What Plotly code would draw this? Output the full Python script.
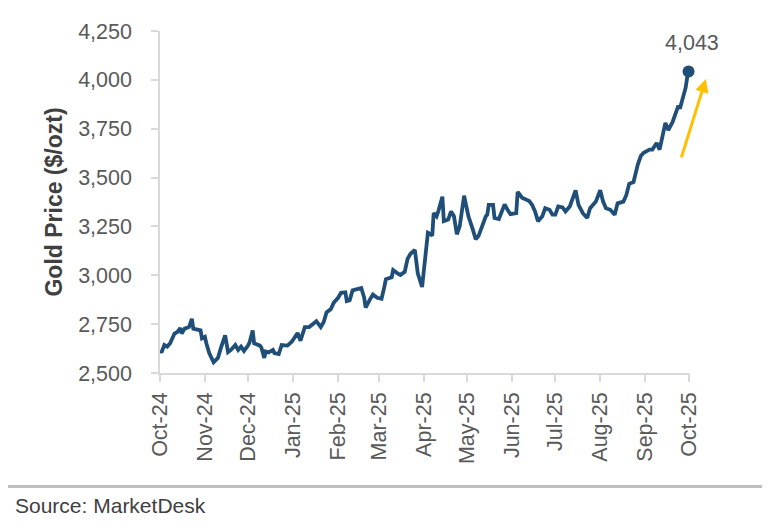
import plotly.graph_objects as go

# Gold price (USD per troy ounce)
dates = [
    "2024-10-01", "2024-10-02", "2024-10-04", "2024-10-06", "2024-10-08", "2024-10-11",
    "2024-10-13", "2024-10-15", "2024-10-16", "2024-10-18", "2024-10-21", "2024-10-23",
    "2024-10-24", "2024-10-27", "2024-10-29", "2024-10-30", "2024-11-01", "2024-11-02",
    "2024-11-04", "2024-11-07", "2024-11-10", "2024-11-12", "2024-11-15", "2024-11-17",
    "2024-11-19", "2024-11-22", "2024-11-24", "2024-11-26", "2024-11-28", "2024-12-01",
    "2024-12-02", "2024-12-04", "2024-12-05", "2024-12-09", "2024-12-10", "2024-12-12",
    "2024-12-13", "2024-12-15", "2024-12-18", "2024-12-19", "2024-12-22", "2024-12-24",
    "2024-12-26", "2024-12-28", "2024-12-31", "2025-01-02", "2025-01-04", "2025-01-06",
    "2025-01-09", "2025-01-12", "2025-01-14", "2025-01-17", "2025-01-20", "2025-01-22",
    "2025-01-24", "2025-01-27", "2025-01-29", "2025-02-01", "2025-02-03", "2025-02-06",
    "2025-02-07", "2025-02-09", "2025-02-11", "2025-02-14", "2025-02-17", "2025-02-19",
    "2025-02-20", "2025-02-23", "2025-02-25", "2025-02-28", "2025-03-03", "2025-03-05",
    "2025-03-06", "2025-03-10", "2025-03-11", "2025-03-14", "2025-03-16", "2025-03-19",
    "2025-03-21", "2025-03-23", "2025-03-26", "2025-03-28", "2025-03-30", "2025-03-31",
    "2025-04-01", "2025-04-03", "2025-04-04", "2025-04-06", "2025-04-07", "2025-04-08",
    "2025-04-10", "2025-04-11", "2025-04-14", "2025-04-15", "2025-04-18", "2025-04-20",
    "2025-04-22", "2025-04-24", "2025-04-26", "2025-04-29", "2025-05-01", "2025-05-02",
    "2025-05-05", "2025-05-07", "2025-05-09", "2025-05-11", "2025-05-14", "2025-05-15",
    "2025-05-16", "2025-05-19", "2025-05-20", "2025-05-23", "2025-05-25", "2025-05-27",
    "2025-05-29", "2025-05-31", "2025-06-04", "2025-06-05", "2025-06-08", "2025-06-11",
    "2025-06-13", "2025-06-15", "2025-06-17", "2025-06-19", "2025-06-22", "2025-06-24",
    "2025-06-27", "2025-06-29", "2025-07-01", "2025-07-03", "2025-07-06", "2025-07-08",
    "2025-07-11", "2025-07-15", "2025-07-17", "2025-07-20", "2025-07-23", "2025-07-25",
    "2025-07-29", "2025-08-01", "2025-08-03", "2025-08-05", "2025-08-08", "2025-08-11",
    "2025-08-13", "2025-08-17", "2025-08-19", "2025-08-21", "2025-08-24", "2025-08-27",
    "2025-08-29", "2025-08-31", "2025-09-04", "2025-09-06", "2025-09-09", "2025-09-11",
    "2025-09-14", "2025-09-15", "2025-09-17", "2025-09-20", "2025-09-22", "2025-09-24",
    "2025-09-25", "2025-09-27", "2025-09-29", "2025-09-30", "2025-10-01",
]
prices = [
    2615, 2605, 2643, 2635, 2652, 2702,
    2710, 2730, 2702, 2727, 2735, 2777,
    2727, 2723, 2718, 2677, 2685, 2652,
    2602, 2555, 2577, 2627, 2693, 2607,
    2618, 2643, 2618, 2635, 2613, 2643,
    2660, 2718, 2652, 2640, 2630, 2577,
    2610, 2605, 2618, 2602, 2597, 2643,
    2640, 2640, 2660, 2680, 2705, 2665,
    2735, 2735, 2747, 2765, 2735, 2760,
    2810, 2827, 2860, 2885, 2910, 2913,
    2868, 2872, 2923, 2930, 2935, 2885,
    2835, 2877, 2902, 2885, 2880, 2943,
    2980, 2990, 3027, 3010, 3002, 3018,
    3085, 3110, 3130, 3010, 2960, 2940,
    3010, 3177, 3218, 3210, 3202, 3318,
    3302, 3323, 3402, 3277, 3285, 3327,
    3302, 3210, 3252, 3407, 3343, 3302,
    3235, 3185, 3202, 3243, 3302, 3310,
    3360, 3360, 3293, 3288, 3327, 3363,
    3335, 3313, 3318, 3427, 3397, 3385,
    3380, 3360, 3327, 3277, 3302, 3343,
    3335, 3310, 3310, 3352, 3347, 3327,
    3352, 3435, 3360, 3318, 3293, 3343,
    3377, 3435, 3377, 3343, 3335, 3310,
    3368, 3377, 3410, 3468, 3477, 3568,
    3610, 3627, 3643, 3643, 3677, 3643,
    3735, 3780, 3743, 3785, 3827, 3868,
    3852, 3902, 3960, 4010, 4043,
]

line_color = "#1F4E79"
axis_color = "#D9D9D9"
text_color = "#595959"

fig = go.Figure()

fig.add_trace(go.Scatter(
    x=dates, y=prices, mode="lines",
    line=dict(color=line_color, width=3.8),
    hoverinfo="x+y", showlegend=False,
))

# Marker on the latest value
fig.add_trace(go.Scatter(
    x=[dates[-1]], y=[prices[-1]], mode="markers",
    marker=dict(color=line_color, size=12),
    showlegend=False, cliponaxis=False,
))

fig.add_annotation(
    x=dates[-1], y=prices[-1], xref="x", yref="y",
    text=f"{prices[-1]:,}", showarrow=False,
    yanchor="middle", yshift=28, xshift=3,
    font=dict(size=21.5, color=text_color),
)

# Yellow trend arrow, to the right of the plot area
fig.add_annotation(
    x=1.030, y=0.860, xref="paper", yref="paper",
    ax=-25, ay=80, axref="pixel", ayref="pixel",
    text="", showarrow=True,
    arrowhead=2, arrowsize=0.9, arrowwidth=3, arrowcolor="#FFC000",
    standoff=0, startstandoff=0,
)

# Source footer
fig.add_shape(
    type="line", xref="paper", yref="paper",
    x0=-0.287, x1=1.136, y0=-0.332, y1=-0.332,
    line=dict(color="#BFBFBF", width=3),
)
fig.add_annotation(
    x=-0.278, y=-0.386, xref="paper", yref="paper",
    text="Source: MarketDesk", showarrow=False,
    xanchor="left", yanchor="middle",
    font=dict(size=21, color="#404040"),
)

# the page body adds an 8px margin, so the figure is a bit smaller than the window
fig.update_layout(
    width=765, height=520,
    margin=dict(l=152, r=83, t=12, b=155),
    plot_bgcolor="white", paper_bgcolor="white",
    font=dict(family="Arial, Liberation Sans, sans-serif", color=text_color),
    xaxis=dict(
        type="date",
        range=["2024-10-01", "2025-10-02"],
        tick0="2024-10-01", dtick="M1", tickformat="%b-%y",
        tickangle=-90,
        showgrid=False, zeroline=False,
        showline=True, linecolor=axis_color, linewidth=1.5,
        ticks="outside", ticklen=7, tickcolor=axis_color, tickwidth=1.5,
        ticklabelstandoff=2,
        tickfont=dict(size=21.5, color=text_color),
    ),
    yaxis=dict(
        range=[2500, 4250], dtick=250, tickformat=",",
        showgrid=False, zeroline=False,
        showline=True, linecolor=axis_color, linewidth=1.5,
        ticks="outside", ticklen=7, tickcolor=axis_color, tickwidth=1.5,
        ticklabelstandoff=15,
        tickfont=dict(size=21.5, color=text_color),
        title=dict(text="<b>Gold Price ($/ozt)</b>", standoff=9,
                   font=dict(size=23, color="#404040")),
    ),
)

fig.write_html("out.html")
